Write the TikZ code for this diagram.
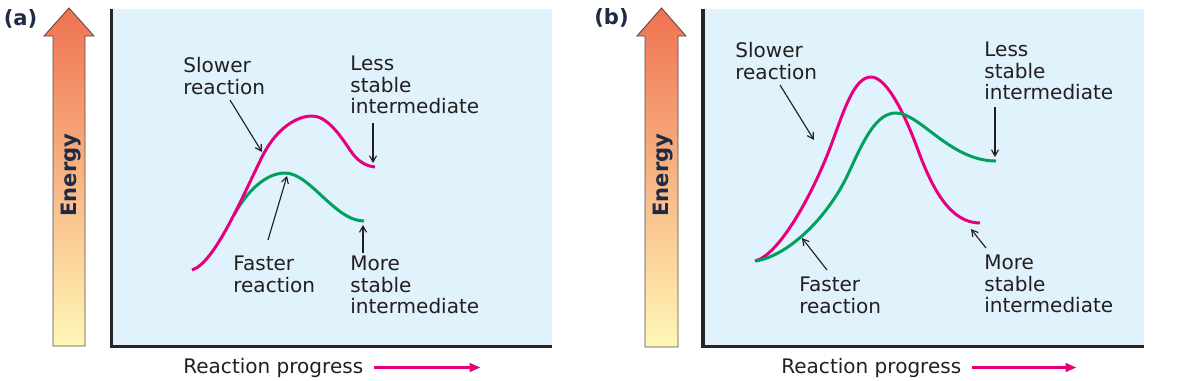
\documentclass[tikz,border=0pt]{standalone}
\usepackage{xcolor}
\usepackage{fontspec}
\setmainfont{DejaVu Sans}
\usepackage{tikz}
\usetikzlibrary{arrows.meta}
\definecolor{panelblue}{HTML}{E0F2FB}
\definecolor{framegray}{HTML}{262626}
\definecolor{slowpink}{HTML}{E6007E}
\definecolor{fastgreen}{HTML}{00A15E}
\definecolor{inkgray}{HTML}{231F20}
\definecolor{tagnavy}{HTML}{1F2A44}
\definecolor{edgebrown}{HTML}{5A4A44}
\definecolor{energytop}{HTML}{F07252}
\definecolor{energymid}{HTML}{FBB27E}
\definecolor{energybot}{HTML}{FFF7B6}
\tikzstyle{lbl} = [anchor=north west, inner sep=0pt, align=left, text=inkgray, font=\fontsize{11.4}{12.2}\selectfont]
\tikzstyle{tag} = [inner sep=0pt, text=tagnavy, font=\bfseries\fontsize{12}{12}\selectfont]
\tikzstyle{axislbl} = [rotate=90, inner sep=0pt, text=tagnavy, font=\bfseries\fontsize{12}{12}\selectfont]
\tikzstyle{note} = [draw=inkgray, line width=0.65pt, -{Straight Barb[length=3.5pt,width=4pt]}]
\tikzstyle{slow} = [draw=slowpink, line width=1.7pt]
\tikzstyle{fast} = [draw=fastgreen, line width=1.7pt]
\tikzstyle{progarrow} = [draw=slowpink, line width=1.7pt, -{Triangle[length=6.2pt,width=4.8pt]}]
\tikzstyle{frame} = [draw=framegray, line width=2pt]
\tikzstyle{energyarrow} = [top color=energytop, middle color=energymid, bottom color=energybot, draw=edgebrown, line width=0.5pt]

\begin{document}
\begin{tikzpicture}[x=0.02cm, y=-0.02cm]
    \useasboundingbox (0,0) rectangle (1179,380);

    % panel (a)
    \fill[panelblue] (111.5,9) rectangle (552,346.5);
    \draw[frame] (111.5,9) -- (111.5,346.5) -- (552,346.5);
    \shadedraw[energyarrow] (53,346) -- (53,36) -- (44,36) -- (69,8) -- (94,36) -- (85,36) -- (85,346) -- cycle;
    \node (tagA) [tag] at (20.5,19) {(a)};
    \node (energyA) [axislbl] at (71,175) {Energy};
    \node (progA) [lbl, anchor=base west] at (183,373) {Reaction progress};
    \draw[progarrow] ([xshift=0.2cm]progA.east) -- ++(107,0);

    \draw[fast] (234,215) .. controls (247,191) and (266,173) .. (285,173)
        .. controls (310,173) and (335,221) .. (364,221);
    \draw[slow] (192,270) .. controls (215,263) and (243,195) .. (263,155)
        .. controls (277,128) and (297,116) .. (312,116)
        .. controls (327,116) and (340,135) .. (350,150)
        .. controls (358,162) and (366,166) .. (375,167);

    \node (slowA) [lbl] at (183,57) {Slower\\reaction};
    \node (lessA) [lbl] at (350,56) {Less\\stable\\intermediate};
    \node (fastA) [lbl] at (233,256) {Faster\\reaction};
    \node (moreA) [lbl] at (350,256) {More\\stable\\intermediate};
    \coordinate (slowAtail) at (230,100);
    \coordinate (slowAhead) at (262,152);
    \coordinate (lessAtail) at (373,123);
    \coordinate (lessAhead) at (373,163);
    \coordinate (fastAtail) at (268,240);
    \coordinate (fastAhead) at (287,176);
    \coordinate (moreAtail) at (363,253);
    \coordinate (moreAhead) at (363,225);
    \draw[note] (slowAtail) -- (slowAhead);
    \draw[note] (lessAtail) -- (lessAhead);
    \draw[note] (fastAtail) -- (fastAhead);
    \draw[note] (moreAtail) -- (moreAhead);

    % panel (b)
    \fill[panelblue] (703,9) rectangle (1144,346.5);
    \draw[frame] (703,9) -- (703,346.5) -- (1144,346.5);
    \shadedraw[energyarrow] (645,347) -- (645,36) -- (637,36) -- (661.5,8) -- (686,36) -- (678,36) -- (678,347) -- cycle;
    \node (tagB) [tag] at (611.5,18) {(b)};
    \node (energyB) [axislbl] at (663,175) {Energy};
    \node (progB) [lbl, anchor=base west] at (781,373) {Reaction progress};
    \draw[progarrow] ([xshift=0.2cm]progB.east) -- ++(105,0);

    \draw[slow] (755,261) .. controls (780,255) and (815,190) .. (833,140)
        .. controls (845,107) and (855,77) .. (871,77)
        .. controls (888,77) and (907,120) .. (918,150)
        .. controls (932,188) and (950,223) .. (980,223);
    \draw[fast] (756,261) .. controls (790,255) and (830,215) .. (850,170)
        .. controls (865,137) and (877,113) .. (896,113)
        .. controls (920,113) and (950,161) .. (996,161);

    \node (slowB) [lbl] at (735,42) {Slower\\reaction};
    \node (lessB) [lbl] at (984,42) {Less\\stable\\intermediate};
    \node (fastB) [lbl] at (799,277) {Faster\\reaction};
    \node (moreB) [lbl] at (984,255) {More\\stable\\intermediate};
    \coordinate (slowBtail) at (780,85);
    \coordinate (slowBhead) at (814,140);
    \coordinate (lessBtail) at (995,107);
    \coordinate (lessBhead) at (995,157);
    \coordinate (fastBtail) at (827,270);
    \coordinate (fastBhead) at (802,238);
    \coordinate (moreBtail) at (986,248);
    \coordinate (moreBhead) at (971,229);
    \draw[note] (slowBtail) -- (slowBhead);
    \draw[note] (lessBtail) -- (lessBhead);
    \draw[note] (fastBtail) -- (fastBhead);
    \draw[note] (moreBtail) -- (moreBhead);
\end{tikzpicture}
\end{document}
